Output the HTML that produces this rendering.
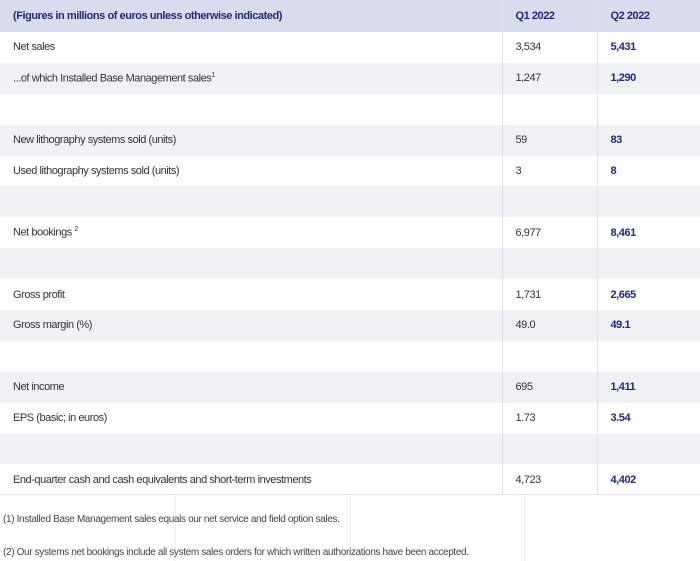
<!DOCTYPE html>
<html><head><style>
body{margin:0;width:700px;height:561px;background:#fff;font-family:"Liberation Sans",sans-serif;overflow:hidden;position:relative}
table{border-collapse:collapse;width:700px;table-layout:fixed;position:absolute;top:0;left:0}
td{height:30.9px;padding:0 0 0 13px;font-size:11px;color:#333;letter-spacing:-0.45px;border-right:1px solid #dfe1e8;box-sizing:border-box;white-space:nowrap}
td:last-child{border-right:none}
tr.h td{background:#d9dcee;color:#1f2a7a;font-weight:bold;height:32px}
tr:nth-child(odd):not(.h) td{background:#f0f1f5}
tr:nth-child(even) td{background:#fff}
td b{color:#1f2a7a}
sup{font-size:7px}
.f{position:absolute;left:3px;font-size:10px;color:#444;letter-spacing:-0.35px}
.v{position:absolute;top:495px;width:1px;height:66px;background:#eceef2}
</style></head><body>
<table>
<colgroup><col style="width:502px"><col style="width:95px"><col style="width:103px"></colgroup>
<tr class="h"><td>(Figures in millions of euros unless otherwise indicated)</td><td>Q1 2022</td><td>Q2 2022</td></tr>
<tr><td>Net sales</td><td>3,534</td><td><b>5,431</b></td></tr>
<tr><td>...of which Installed Base Management sales<sup>1</sup></td><td>1,247</td><td><b>1,290</b></td></tr>
<tr><td></td><td></td><td></td></tr>
<tr><td>New lithography systems sold (units)</td><td>59</td><td><b>83</b></td></tr>
<tr><td>Used lithography systems sold (units)</td><td>3</td><td><b>8</b></td></tr>
<tr><td></td><td></td><td></td></tr>
<tr><td>Net bookings <sup>2</sup></td><td>6,977</td><td><b>8,461</b></td></tr>
<tr><td></td><td></td><td></td></tr>
<tr><td>Gross profit</td><td>1,731</td><td><b>2,665</b></td></tr>
<tr><td>Gross margin (%)</td><td>49.0</td><td><b>49.1</b></td></tr>
<tr><td></td><td></td><td></td></tr>
<tr><td>Net income</td><td>695</td><td><b>1,411</b></td></tr>
<tr><td>EPS (basic; in euros)</td><td>1.73</td><td><b>3.54</b></td></tr>
<tr><td></td><td></td><td></td></tr>
<tr><td>End-quarter cash and cash equivalents and short-term investments</td><td>4,723</td><td><b>4,402</b></td></tr>
</table>
<div style="position:absolute;top:494px;left:0;width:700px;height:1px;background:#e2e4ea"></div>
<div class="v" style="left:175px"></div><div class="v" style="left:350px"></div><div class="v" style="left:524px"></div>
<div class="f" style="top:514px">(1) Installed Base Management sales equals our net service and field option sales.</div>
<div class="f" style="top:547px">(2) Our systems net bookings include all system sales orders for which written authorizations have been accepted.</div>
</body></html>
